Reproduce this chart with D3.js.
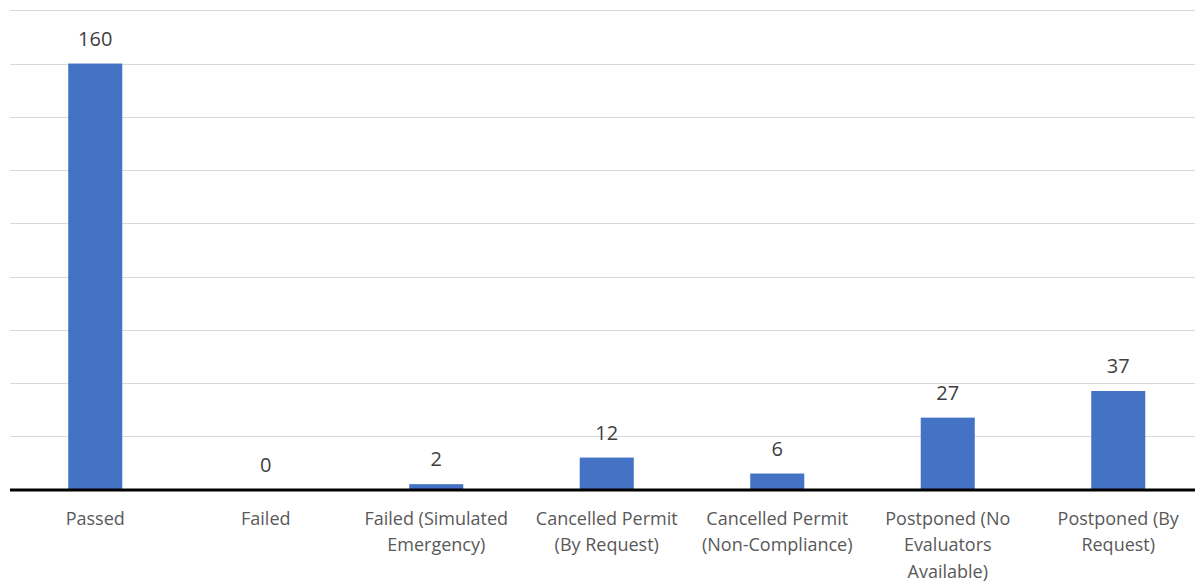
<!DOCTYPE html>
<html>
<head>
<meta charset="utf-8">
<script src="https://cdn.jsdelivr.net/npm/d3@7"></script>
<style>
  body { margin: 0; background: #fff; }
  svg { display: block; font-family: "Open Sans", sans-serif; }
</style>
</head>
<body>
<svg id="chart" width="1195" height="581"></svg>
<script>
// chart values
var categories = [
    "Passed",
    "Failed",
    "Failed (Simulated Emergency)",
    "Cancelled Permit (By Request)",
    "Cancelled Permit (Non-Compliance)",
    "Postponed (No Evaluators Available)",
    "Postponed (By Request)"
];
var counts = [160, 0, 2, 12, 6, 27, 37];
var gridTicks = [0, 20, 40, 60, 80, 100, 120, 140, 160, 180];

var svg = d3.select('#chart');

var x = d3.scaleBand()
    .domain(categories)
    .range([10, 1203.5])
    .paddingInner(0.683)
    .paddingOuter(0.3415);

var y = d3.scaleLinear()
    .domain([0, 180])
    .range([489.5, 10.3]);

// horizontal gridlines
svg.append('g')
    .selectAll('line')
    .data(gridTicks.slice(1))
    .enter().append('line')
      .attr('x1', 10)
      .attr('x2', 1195)
      .attr('y1', function(d) { return Math.round(y(d)) + 0.5; })
      .attr('y2', function(d) { return Math.round(y(d)) + 0.5; })
      .style('stroke', '#d9d9d9')
      .style('stroke-width', 1);

// bars
svg.append('g')
    .selectAll('rect')
    .data(counts)
    .enter().append('rect')
      .attr('x', function(d, i) { return x(categories[i]); })
      .attr('width', x.bandwidth())
      .attr('y', function(d) { return y(d); })
      .attr('height', function(d) { return y(0) - y(d); })
      .style('fill', '#4472c4');

// value labels
svg.append('g')
    .selectAll('text')
    .data(counts)
    .enter().append('text')
      .attr('x', function(d, i) { return x(categories[i]) + x.bandwidth() / 2; })
      .attr('y', function(d) { return y(d) - 18; })
      .attr('text-anchor', 'middle')
      .style('font-size', '20px')
      .style('fill', '#404040')
      .text(function(d) { return d; });

// baseline
svg.append('line')
    .attr('x1', 10)
    .attr('x2', 1195)
    .attr('y1', y(0) + 0.5)
    .attr('y2', y(0) + 0.5)
    .style('stroke', '#000')
    .style('stroke-width', 3);

// category labels, wrapped to the band width
var xAxis = d3.axisBottom(x).tickSize(0).tickPadding(0);
var axis = svg.append('g')
    .attr('transform', 'translate(0,' + (y(0) + 1) + ')')
    .call(xAxis);
axis.select('.domain').remove();
axis.selectAll('text')
    .style('font-family', '"Open Sans", sans-serif')
    .style('font-size', '18px')
    .style('fill', '#595959')
    .call(wrap, x.step() - 8);

function wrap(texts, width) {
    texts.each(function() {
        var text = d3.select(this);
        var words = text.text().split(/\s+/);
        var line = [];
        var lineNo = 0;
        text.text(null).attr('y', null).attr('dy', null);
        var tspan = text.append('tspan').attr('x', 0).attr('y', 34);
        words.forEach(function(word) {
            line.push(word);
            tspan.text(line.join(' '));
            if (tspan.node().getComputedTextLength() > width && line.length > 1) {
                line.pop();
                tspan.text(line.join(' '));
                line = [word];
                lineNo++;
                tspan = text.append('tspan')
                    .attr('x', 0)
                    .attr('y', 34 + lineNo * 26.5)
                    .text(word);
            }
        });
    });
}
</script>
</body>
</html>
